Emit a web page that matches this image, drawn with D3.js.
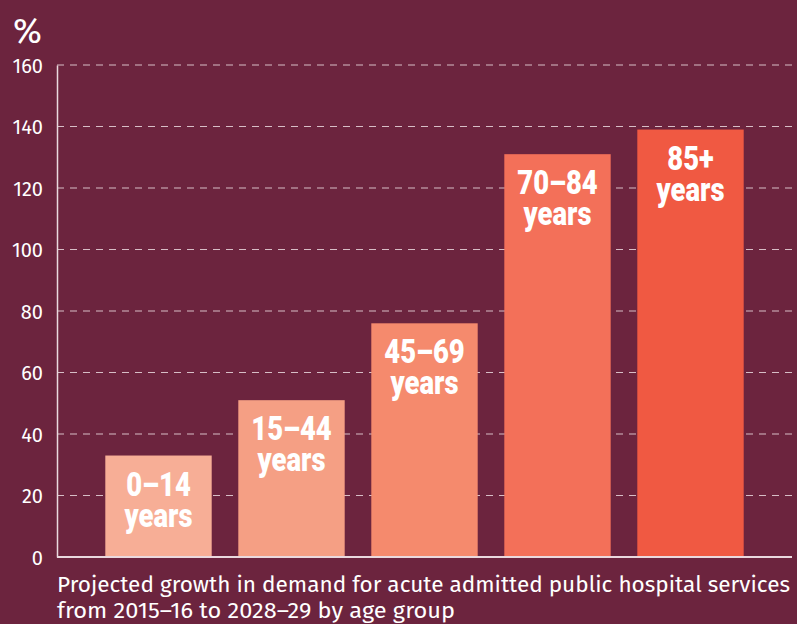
<!DOCTYPE html>
<html><head><meta charset="utf-8">
<script src="https://cdn.jsdelivr.net/npm/d3@7"></script>
<style>
html,body{margin:0;padding:0;background:#6c243e;}
svg{display:block;}
</style></head>
<body>
<svg id="chart" width="797" height="624"></svg>
<script>
const categories = ["0–14", "15–44", "45–69", "70–84", "85+"];
const values = [33, 51, 76, 131, 139];
const barColors = ["#f7ae96", "#f59f84", "#f58a6d", "#f37059", "#f05942"];
const yTicks = [0, 20, 40, 60, 80, 100, 120, 140, 160];
const unitLabel = "%";
const captionLines = ["Projected growth in demand for acute admitted public hospital services",
                      "from 2015–16 to 2028–29 by age group"];

const svg = d3.select("#chart");
const W = 797, H = 624;
svg.append("rect").attr("width", W).attr("height", H).attr("fill", "#6c243e");

const x = d3.scaleBand().domain(categories).range([92, 757]).paddingInner(0.2).paddingOuter(0.1);
const y = d3.scaleLinear().domain([0, 160]).range([557, 65]);
const axisX0 = 57, axisX1 = 792;
const lineCol = "#ead9de";
const sansFont = "'Fira Sans','Noto Sans','Open Sans',sans-serif";
const condFont = "Roboto,'Liberation Sans',sans-serif";

// gridlines
svg.append("g").selectAll("line").data(yTicks.filter(d => d > 0)).join("line")
  .attr("x1", axisX0).attr("x2", axisX1)
  .attr("y1", d => y(d)).attr("y2", d => y(d))
  .attr("stroke", lineCol).attr("stroke-opacity", 0.85).attr("stroke-width", 1.2)
  .attr("stroke-dasharray", "7,6");

// bars
svg.append("g").selectAll("rect").data(categories).join("rect")
  .attr("x", d => x(d)).attr("width", x.bandwidth())
  .attr("y", (d, i) => y(values[i])).attr("height", (d, i) => y(0) - y(values[i]))
  .attr("fill", (d, i) => barColors[i]);

// y axis
const yAxis = d3.axisLeft(y).tickValues(yTicks).tickSize(0).tickPadding(14);
const gy = svg.append("g").attr("transform", `translate(${axisX0},0)`).call(yAxis);
gy.select(".domain").attr("stroke", lineCol).attr("stroke-width", 1.5);
gy.selectAll("text").attr("fill", "#ffffff").attr("font-family", sansFont)
  .attr("font-size", 20).attr("dy", "0.36em");

// x axis baseline
svg.append("line").attr("x1", axisX0).attr("x2", axisX1).attr("y1", y(0)).attr("y2", y(0))
  .attr("stroke", lineCol).attr("stroke-width", 2);

// unit label
svg.append("text").attr("x", 13).attr("y", 43).text(unitLabel)
  .attr("fill", "#fff").attr("font-family", sansFont).attr("font-size", 35);

// bar labels (condensed look via horizontal scaling)
const lab = svg.append("g").selectAll("g").data(categories).join("g")
  .attr("transform", (d, i) => `translate(${x(d) + x.bandwidth() / 2},${y(values[i])})`);
const inner = lab.append("g");
inner.append("text").attr("y", 40)
  .attr("text-anchor", "middle").attr("fill", "#fff")
  .attr("font-family", condFont).attr("font-weight", 900).attr("font-size", 34)
  .text(d => d);
const yrs = inner.append("text").attr("y", 71)
  .attr("text-anchor", "middle").attr("fill", "#fff")
  .attr("font-family", condFont).attr("font-weight", 900).attr("font-size", 34)
  .text("years");
const natural = yrs.node().getComputedTextLength() || 82;
const sx = 68 / natural;
inner.attr("transform", `scale(${sx},1)`);

// caption
const capLen = [733, 398];
svg.append("g").selectAll("text").data(captionLines).join("text")
  .attr("x", 57).attr("y", (d, i) => 592 + i * 26)
  .attr("fill", "#fff").attr("font-family", sansFont).attr("font-size", 22)
  .attr("textLength", (d, i) => capLen[i])
  .attr("lengthAdjust", "spacingAndGlyphs")
  .text(d => d);
</script>
</body></html>
